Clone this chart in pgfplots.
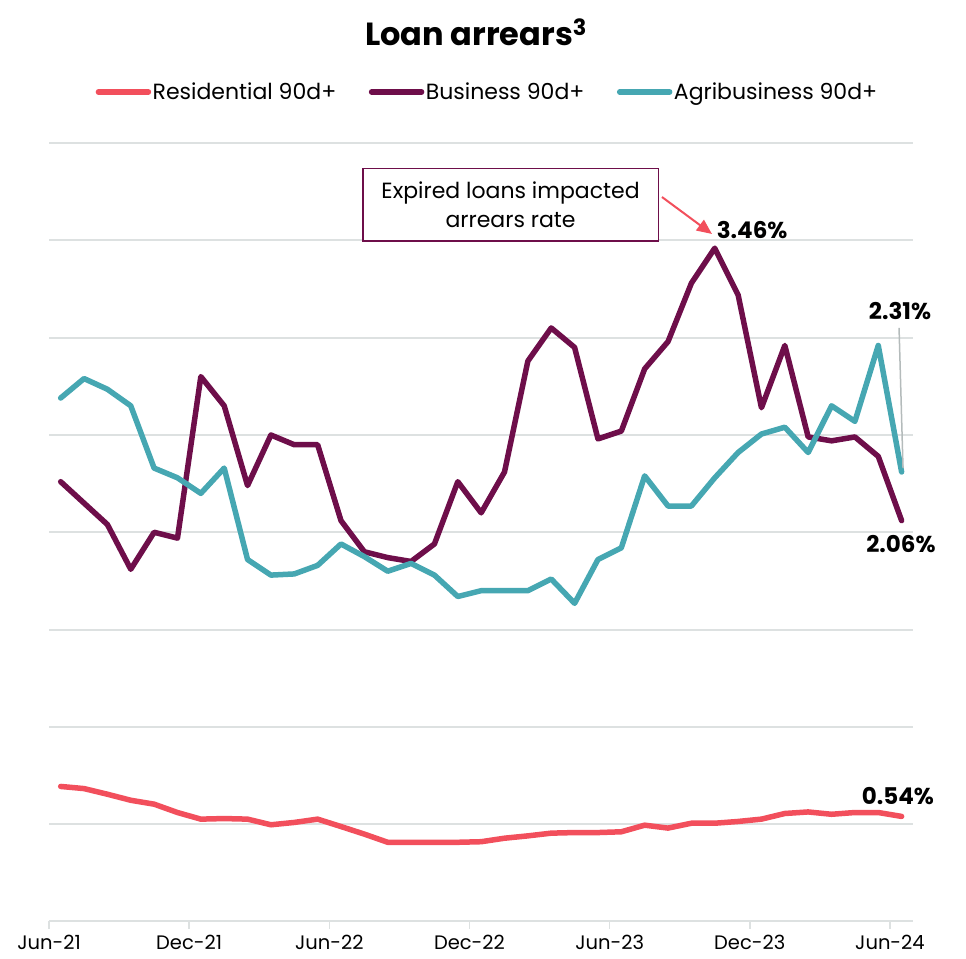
\documentclass[border=0pt]{standalone}
\usepackage{fontspec}
\setmainfont{Poppins}
\usepackage{pgfplots}
\usepackage{pgfplotstable}
\pgfplotsset{compat=1.18}
\usetikzlibrary{arrows.meta}
\definecolor{resred}{HTML}{F24F5C}
\definecolor{bizpurple}{HTML}{6E0E4A}
\definecolor{agriteal}{HTML}{46A7B2}
\definecolor{gridgray}{HTML}{DDE1E1}
\definecolor{leadgray}{HTML}{B4BBBB}

\pgfplotstableread{
i res biz agri
0 0.694 2.26 2.69
1 0.683 2.15 2.79
2 0.654 2.04 2.735
3 0.623 1.81 2.65
4 0.603 2.00 2.33
5 0.560 1.97 2.28
6 0.526 2.80 2.20
7 0.529 2.65 2.33
8 0.526 2.24 1.86
9 0.497 2.50 1.78
10 0.509 2.45 1.786
11 0.526 2.45 1.83
12 0.488 2.06 1.94
13 0.449 1.90 1.875
14 0.407 1.87 1.80
15 0.407 1.85 1.84
16 0.407 1.94 1.78
17 0.407 2.26 1.67
18 0.410 2.10 1.70
19 0.428 2.31 1.70
20 0.440 2.88 1.70
21 0.454 3.05 1.76
22 0.457 2.95 1.635
23 0.457 2.48 1.86
24 0.461 2.52 1.92
25 0.495 2.84 2.29
26 0.480 2.98 2.135
27 0.505 3.28 2.135
28 0.505 3.46 2.28
29 0.514 3.22 2.41
30 0.526 2.64 2.505
31 0.555 2.96 2.54
32 0.563 2.49 2.41
33 0.551 2.47 2.65
34 0.560 2.49 2.57
35 0.560 2.39 2.96
36 0.540 2.06 2.31
}\datatable

\begin{document}
\begin{tikzpicture}
\useasboundingbox (0,0) rectangle (966pt,958pt);
\node[anchor=base, font=\fontsize{32}{36}\selectfont\bfseries] at (476pt,912pt) {Loan arrears\raisebox{1pt}{\textsuperscript{3}}};
\begin{axis}[
 at={(49pt,36.5pt)}, anchor=south west, scale only axis,
 width=864.3pt, height=778.4pt,
 xmin=-0.5, xmax=36.5, ymin=0, ymax=4,
 axis x line*=bottom, axis y line*=left,
 y axis line style={draw=none},
 x axis line style={draw=gridgray, line width=2pt},
 ytick={0,0.5,...,4}, yticklabels={}, ytick style={draw=none},
 ymajorgrids, grid style={draw=gridgray, line width=2pt},
 xtick={-0.5,5.5,11.5,17.5,23.5,29.5,35.5},
 xticklabels={Jun-21,Dec-21,Jun-22,Dec-22,Jun-23,Dec-23,Jun-24},
 xtick style={draw=gridgray, line width=1.5pt},
 tick align=outside, major tick length=7pt,
 xticklabel style={font=\fontsize{19.5}{23}\selectfont, text=black, yshift=-3pt},
 /pgf/number format/assume math mode=true,
 legend columns=3,
 legend style={draw=none, fill=none, at={(axis description cs:0.507,1.0657)}, anchor=center,
   font=\fontsize{22}{26}\selectfont, /tikz/every even column/.append style={column sep=31pt},
   inner sep=0pt, nodes={inner sep=1.5pt}},
 legend image code/.code={\draw[#1, line width=5.5pt, line cap=round] (0pt,0pt) -- (50pt,0pt);},
 clip=false,
]
\addplot[resred, line width=5.5pt, line join=round, line cap=round] table[x=i, y=res] {\datatable};
\addlegendentry{Residential 90d+}
\addplot[bizpurple, line width=5.5pt, line join=round, line cap=round] table[x=i, y=biz] {\datatable};
\addlegendentry{Business 90d+}
\addplot[agriteal, line width=5.5pt, line join=round, line cap=round] table[x=i, y=agri] {\datatable};
\addlegendentry{Agribusiness 90d+}

\draw[leadgray, line width=1.5pt] (axis cs:35.89,3.05) -- (axis cs:36.06,2.33);
\node[font=\fontsize{23}{26}\selectfont\bfseries] at (axis cs:29.6,3.553) {3.46\%};
\node[font=\fontsize{23}{26}\selectfont\bfseries] at (axis cs:35.93,3.137) {2.31\%};
\node[font=\fontsize{23}{26}\selectfont\bfseries] at (axis cs:35.97,1.94) {2.06\%};
\node[font=\fontsize{23}{26}\selectfont\bfseries] at (axis cs:35.84,0.645) {0.54\%};
\node[draw=bizpurple, fill=white, line width=1.5pt, minimum width=295.6pt, minimum height=72.7pt,
  align=center, font=\fontsize{22}{29}\selectfont, inner sep=0pt] at (axis cs:19.26,3.683)
  {Expired loans impacted\\arrears rate};
\draw[resred, line width=2pt, -{Triangle[length=15pt,width=13pt]}] (axis cs:25.74,3.723) -- (axis cs:27.88,3.533);
\end{axis}
\end{tikzpicture}
\end{document}
